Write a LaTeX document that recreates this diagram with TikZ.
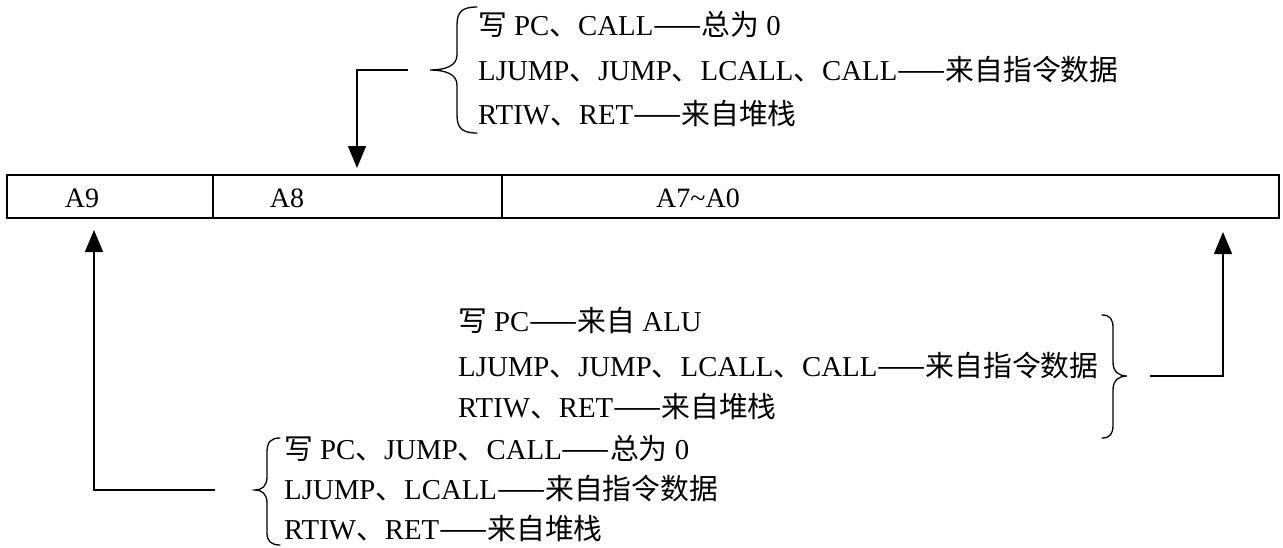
\documentclass[tikz,border=0pt]{standalone}
\usepackage{fontspec}
\setmainfont{Liberation Serif}
\newfontfamily\cjk{Noto Sans CJK SC}
\usetikzlibrary{arrows.meta}
\newcommand{\zh}[1]{{\cjk #1}}
\begin{document}
\begin{tikzpicture}[x=1pt,y=-1pt,
  txt/.style={anchor=base west,inner sep=0pt,font=\fontsize{28.8}{32}\selectfont},
  reglbl/.style={anchor=base,inner sep=0pt,font=\fontsize{28}{32}\selectfont},
  cell/.style={draw,line width=2.2pt,inner sep=0pt,outer sep=0pt,minimum height=43pt},
  conn/.style={line width=1.5pt},
  arr/.style={conn,-{Triangle[length=22pt,width=18pt]}},
  bracepath/.style={line width=1.3pt,line cap=round}]
\useasboundingbox (0,0) rectangle (1283,547);
% register
\node[cell,minimum width=206pt] (c9) at (110,196.5) {};
\node[cell,minimum width=289pt] (c8) at (357.5,196.5) {};
\node[cell,minimum width=777pt] (c70) at (890.5,196.5) {};
\node[reglbl] (l9) at (82,207.5) {A9};
\node[reglbl] (l8) at (287,207.5) {A8};
\node[reglbl] (l70) at (698,207.5) {A7\textasciitilde A0};
% top group
\draw[bracepath] (477,7) .. controls (462,7) and (457,12) .. (457,25) -- (457,55)
  .. controls (457,66) and (445,70) .. (430,70)
  .. controls (445,70) and (457,74) .. (457,85) -- (457,115)
  .. controls (457,128) and (462,133) .. (477,133);
\node[txt] (t1) at (478,35) {\zh{写} PC\zh{、}CALL\zh{——总为} 0};
\node[txt] (t2) at (478,80) {LJUMP\zh{、}JUMP\zh{、}LCALL\zh{、}CALL\zh{——来自指令数据}};
\node[txt] (t3) at (478,124) {RTIW\zh{、}RET\zh{——来自堆栈}};
\coordinate (ta) at (408,70);
\coordinate (tb) at (357,168);
\draw[arr] (ta) -| (tb);
% middle group
\node[txt] (m1) at (458,331) {\zh{写} PC\zh{——来自} ALU};
\node[txt] (m2) at (458,376) {LJUMP\zh{、}JUMP\zh{、}LCALL\zh{、}CALL\zh{——来自指令数据}};
\node[txt] (m3) at (458,417) {RTIW\zh{、}RET\zh{——来自堆栈}};
\draw[bracepath] (1102,315) .. controls (1110,315) and (1113,319) .. (1113,328) -- (1113,362)
  .. controls (1113,372) and (1119,376) .. (1127,376)
  .. controls (1119,376) and (1113,380) .. (1113,390) -- (1113,425)
  .. controls (1113,434) and (1110,438) .. (1102,438);
\coordinate (ma) at (1150,376);
\coordinate (mb) at (1223,232);
\draw[arr] (ma) -| (mb);
% bottom group
\draw[bracepath] (280,438) .. controls (271,438) and (267,442) .. (267,452) -- (267,477)
  .. controls (267,486) and (262,490) .. (255,490)
  .. controls (262,490) and (267,494) .. (267,503) -- (267,533)
  .. controls (267,541) and (271,545) .. (280,545);
\node[txt] (b1) at (284,459) {\zh{写} PC\zh{、}JUMP\zh{、}CALL\zh{——总为} 0};
\node[txt] (b2) at (284,499) {LJUMP\zh{、}LCALL\zh{——来自指令数据}};
\node[txt] (b3) at (284,539) {RTIW\zh{、}RET\zh{——来自堆栈}};
\coordinate (ba) at (215,490);
\coordinate (bb) at (94,230);
\draw[arr] (ba) -| (bb);
\end{tikzpicture}
\end{document}
